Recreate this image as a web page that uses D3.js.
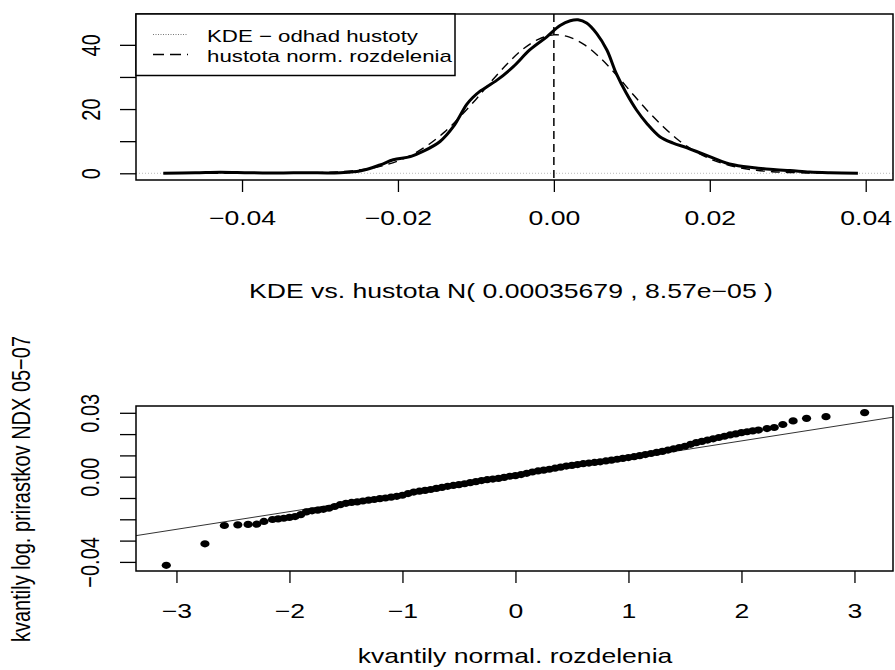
<!DOCTYPE html>
<html>
<head>
<meta charset="utf-8">
<script src="https://cdn.jsdelivr.net/npm/d3@7"></script>
<style>
body { margin: 0; background: #fff; }
svg { display: block; }
text { font-family: "Liberation Sans", Arial, sans-serif; fill: #000; }
</style>
</head>
<body>
<svg width="895" height="670"></svg>
<script>
// KDE of the log returns
var kdeX = [-0.0501,-0.046,-0.0428,-0.039,-0.035,-0.0317,-0.029,-0.0274,-0.0249,-0.0223,-0.0206,-0.0184,-0.0168,-0.0146,-0.0129,-0.0112,-0.0104,-0.0095,-0.0073,-0.0052,-0.0031,-0.0009,0.0008,0.0021,0.0031,0.0042,0.0055,0.0068,0.0080,0.0093,0.0106,0.0119,0.0136,0.0153,0.0170,0.0187,0.0204,0.0221,0.0243,0.0262,0.0285,0.0303,0.0328,0.0354,0.039];
var kdeY = [0.05,0.15,0.3,0.15,0.1,0.2,0.1,0.2,0.7,2.6,4.2,5.2,6.8,9.9,14.5,21.4,23.6,25.5,29.0,33.2,38.4,42.5,46.0,47.5,47.8,46.8,43.5,38.4,31.1,24.9,19.7,15.6,11.4,9.4,8.0,6.4,4.8,3.2,2.1,1.6,1.1,0.87,0.37,0.15,0.02];

// normal density curve
var normX = [-0.050,-0.040,-0.034,-0.030,-0.028,-0.026,-0.024,-0.022,-0.020,-0.018,-0.016,-0.014,-0.012,-0.010,-0.008,-0.006,-0.004,-0.002,0.000,0.002,0.004,0.006,0.008,0.010,0.012,0.014,0.016,0.018,0.020,0.022,0.024,0.026,0.028,0.030,0.034,0.039];
var normY = [0,0.01,0.04,0.2,0.4,0.75,1.35,2.33,3.84,6.03,9.05,12.9,17.7,23.0,28.7,34.0,38.6,41.7,43.1,42.4,39.9,35.8,30.7,25.0,19.5,14.6,10.3,7.0,4.5,2.8,1.65,0.93,0.5,0.26,0.06,0.01];

var meanLine = 0;
var topXTicks = [-0.04,-0.02,0,0.02,0.04];
var topYTicks = [0,10,20,30,40];
var topYLabels = [0,20,40];

// QQ plot: theoretical vs sample quantiles
var qqTheo = [-3.090,-2.748,-2.576,-2.457,-2.366,-2.290,-2.226,
  -2.15,-2.10,-2.05,-2.00,-1.95,-1.90,-1.85,-1.80,-1.75,-1.70,-1.65,-1.60,-1.55,-1.50,-1.45,-1.40,-1.35,-1.30,-1.25,-1.20,-1.15,-1.10,-1.05,-1.00,
  -0.95,-0.90,-0.85,-0.80,-0.75,-0.70,-0.65,-0.60,-0.55,-0.50,-0.45,-0.40,-0.35,-0.30,-0.25,-0.20,-0.15,-0.10,-0.05,0.00,
  0.05,0.10,0.15,0.20,0.25,0.30,0.35,0.40,0.45,0.50,0.55,0.60,0.65,0.70,0.75,0.80,0.85,0.90,0.95,1.00,
  1.05,1.10,1.15,1.20,1.25,1.30,1.35,1.40,1.45,1.50,1.55,1.60,1.65,1.70,1.75,1.80,1.85,1.90,1.95,2.00,2.05,2.10,2.15,
  2.226,2.290,2.366,2.457,2.576,2.748,3.090];
var qqSample = [-0.0416,-0.0315,-0.0229,-0.0226,-0.0224,-0.0223,-0.0210,
  -0.0201,-0.0198,-0.0195,-0.0191,-0.0187,-0.0178,-0.0165,-0.0160,-0.0157,-0.0153,-0.0148,-0.0140,-0.0131,-0.0125,-0.0121,-0.0118,-0.0114,-0.0110,-0.0107,-0.0103,-0.0100,-0.0096,-0.0092,-0.0087,
  -0.0079,-0.0072,-0.0068,-0.0064,-0.0060,-0.0055,-0.0050,-0.0045,-0.0041,-0.0037,-0.0033,-0.0028,-0.0023,-0.0018,-0.0014,-0.0011,-0.0008,-0.0003,0.0002,0.0005,
  0.0010,0.0016,0.0022,0.0027,0.0031,0.0035,0.0040,0.0045,0.0050,0.0053,0.0057,0.0061,0.0064,0.0067,0.0070,0.0074,0.0078,0.0082,0.0086,0.0090,
  0.0094,0.0099,0.0104,0.0109,0.0114,0.0119,0.0125,0.0131,0.0137,0.0143,0.0152,0.0160,0.0166,0.0172,0.0178,0.0184,0.0190,0.0196,0.0201,0.0207,0.0211,0.0215,0.0219,
  0.0226,0.0231,0.0245,0.0262,0.0274,0.0282,0.0301];
var qqIntercept = 0.0002;
var qqSlope = 0.0083;
var botXTicks = [-3,-2,-1,0,1,2,3];
var botYTicks = [-0.04,-0.03,-0.02,-0.01,0,0.01,0.02,0.03];
var botYLabels = [-0.04,0,0.03];

var svg = d3.select("svg");
var SX = 1.33; // picture is stretched sideways, so is the text

var xTop = d3.scaleLinear().domain([-0.0536, 0.0435]).range([136, 893]);
var yTop = d3.scaleLinear().domain([-2.09, 49.6]).range([180, 14]);
var xBot = d3.scaleLinear().domain([-3.358, 3.341]).range([136, 893]);
var yBot = d3.scaleLinear().domain([-0.04427, 0.03319]).range([571, 406]);

var defs = svg.append("defs");
defs.append("clipPath").attr("id","clipTop").append("rect")
    .attr("x",136).attr("y",14).attr("width",757).attr("height",166);
defs.append("clipPath").attr("id","clipBot").append("rect")
    .attr("x",136).attr("y",406).attr("width",757).attr("height",165);

var styleAxis = (g) => {
    g.attr("font-size", null).attr("font-family", null);
    g.select(".domain").remove();
    g.selectAll(".tick line").attr("stroke","#000").attr("stroke-width",1.3);
    g.selectAll("text").style("font-size","20px");
}

// ---- top panel
var topPanel = svg.append("g");

topPanel.append("line")
    .attr("x1",136).attr("x2",893)
    .attr("y1",yTop(0)).attr("y2",yTop(0))
    .attr("stroke","#bbb").attr("stroke-dasharray","1,2");

var plotTop = topPanel.append("g").attr("clip-path","url(#clipTop)");

var normLine = d3.line()
    .x((d,i) => xTop(normX[i]))
    .y((d,i) => yTop(normY[i]))
    .curve(d3.curveCatmullRom);
plotTop.append("path")
    .attr("d", normLine(normX))
    .attr("fill","none").attr("stroke","#000")
    .attr("stroke-width",1.4).attr("stroke-dasharray","9,6");

var kdeLine = d3.line()
    .x((d,i) => xTop(kdeX[i]))
    .y((d,i) => yTop(kdeY[i]))
    .curve(d3.curveCatmullRom);
plotTop.append("path")
    .attr("d", kdeLine(kdeX))
    .attr("fill","none").attr("stroke","#000")
    .attr("stroke-width",3).attr("stroke-linejoin","round");

plotTop.append("line")
    .attr("x1",xTop(meanLine)).attr("x2",xTop(meanLine))
    .attr("y1",14).attr("y2",180)
    .attr("stroke","#000").attr("stroke-width",1.5).attr("stroke-dasharray","8,5");

topPanel.append("g")
    .attr("transform","translate(0,180)")
    .call(d3.axisBottom(xTop).tickValues(topXTicks).tickSize(12).tickFormat(d3.format(".2f")))
    .call(styleAxis)
    .call(g => g.selectAll("text")
        .attr("y",null).attr("dy",null)
        .attr("transform","translate(0,45) scale(" + SX + ",1)"));

topPanel.append("g")
    .attr("transform","translate(136,0)")
    .call(d3.axisLeft(yTop).tickValues(topYTicks).tickSize(16)
        .tickFormat(d => topYLabels.indexOf(d) >= 0 ? d : ""))
    .call(styleAxis)
    .call(g => g.selectAll("text")
        .attr("x",null).attr("dy",null)
        .attr("text-anchor","middle")
        .attr("transform","translate(-36,0) scale(" + SX + ",1) rotate(-90)"));

topPanel.append("rect")
    .attr("x",136).attr("y",14).attr("width",757).attr("height",166)
    .attr("fill","none").attr("stroke","#000").attr("stroke-width",1.5);

// legend
var legend = topPanel.append("g");
legend.append("rect")
    .attr("x",136).attr("y",14).attr("width",319).attr("height",61.5)
    .attr("fill","#fff").attr("stroke","#000").attr("stroke-width",1.5);
legend.append("line")
    .attr("x1",153).attr("x2",188).attr("y1",34.5).attr("y2",34.5)
    .attr("stroke","#777").attr("stroke-width",1).attr("stroke-dasharray","1,1.5");
legend.append("line")
    .attr("x1",153).attr("x2",188).attr("y1",54.5).attr("y2",54.5)
    .attr("stroke","#000").attr("stroke-width",1.4).attr("stroke-dasharray","11,6");
var legendTexts = ["KDE − odhad hustoty", "hustota norm. rozdelenia"];
legend.selectAll("text.lg")
    .data(legendTexts)
    .enter().append("text")
    .attr("class","lg")
    .attr("transform",(d,i) => "translate(207," + (41.5 + i*20.5) + ") scale(1.31,1)")
    .style("font-size","17px")
    .text(d => d);

svg.append("text")
    .attr("transform","translate(511,298) scale(" + SX + ",1)")
    .attr("text-anchor","middle")
    .style("font-size","20px")
    .text("KDE vs. hustota N( 0.00035679 , 8.57e−05 )");

// ---- bottom panel
var botPanel = svg.append("g");
var plotBot = botPanel.append("g").attr("clip-path","url(#clipBot)");

plotBot.append("line")
    .attr("x1",xBot(-3.358)).attr("x2",xBot(3.341))
    .attr("y1",yBot(qqIntercept + qqSlope*-3.358))
    .attr("y2",yBot(qqIntercept + qqSlope*3.341))
    .attr("stroke","#333").attr("stroke-width",1);

// points come out wider than tall, like the rest of the picture
plotBot.selectAll("ellipse")
    .data(qqTheo)
    .enter().append("ellipse")
    .attr("cx",d => xBot(d))
    .attr("cy",(d,i) => yBot(qqSample[i]))
    .attr("rx",4.6)
    .attr("ry",3.6)
    .attr("fill","#000");

botPanel.append("g")
    .attr("transform","translate(0,571)")
    .call(d3.axisBottom(xBot).tickValues(botXTicks).tickSize(12).tickFormat(d3.format("d")))
    .call(styleAxis)
    .call(g => g.selectAll("text")
        .attr("y",null).attr("dy",null)
        .attr("transform","translate(0,47) scale(" + SX + ",1)"));

botPanel.append("g")
    .attr("transform","translate(136,0)")
    .call(d3.axisLeft(yBot).tickValues(botYTicks).tickSize(16)
        .tickFormat(d => botYLabels.indexOf(d) >= 0 ? d3.format(".2f")(d) : ""))
    .call(styleAxis)
    .call(g => g.selectAll("text")
        .attr("x",null).attr("dy",null)
        .attr("text-anchor","middle")
        .attr("transform","translate(-37,0) scale(" + SX + ",1) rotate(-90)"));

botPanel.append("rect")
    .attr("x",136).attr("y",406).attr("width",757).attr("height",165)
    .attr("fill","none").attr("stroke","#000").attr("stroke-width",1.5);

svg.append("text")
    .attr("transform","translate(515,663) scale(" + SX + ",1)")
    .attr("text-anchor","middle")
    .style("font-size","20px")
    .text("kvantily normal. rozdelenia");

svg.append("text")
    .attr("transform","translate(30,489) scale(" + SX + ",1) rotate(-90)")
    .attr("text-anchor","middle")
    .style("font-size","20px")
    .text("kvantily log. prirastkov NDX 05−07");
</script>
</body>
</html>
